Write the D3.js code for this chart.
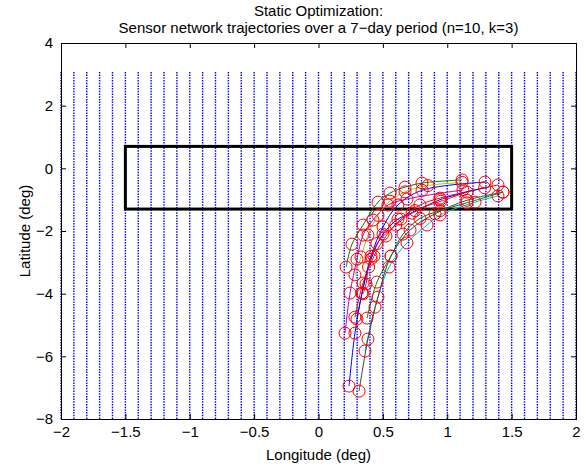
<!DOCTYPE html>
<html>
<head>
<meta charset="utf-8">
<script src="https://cdn.jsdelivr.net/npm/d3@7"></script>
<style>
  html, body { margin: 0; padding: 0; background: #fff; }
  text { font-family: "Liberation Sans", Arial, sans-serif; }
</style>
</head>
<body>
<div id="chart"></div>
<script>
// axis ticks
const lonTicks = [-2, -1.5, -1, -0.5, 0, 0.5, 1, 1.5, 2];
const latTicks = [-8, -6, -4, -2, 0, 2, 4];

// current field columns (quiver grid)
const fieldLon = [-2, -1.9, -1.8, -1.7, -1.6, -1.5, -1.4, -1.3, -1.2, -1.1, -1, -0.9, -0.8, -0.7, -0.6,
  -0.5, -0.4, -0.3, -0.2, -0.1, 0, 0.1, 0.2, 0.3, 0.4, 0.5, 0.6, 0.7, 0.8, 0.9, 1, 1.1, 1.2, 1.3,
  1.4, 1.5, 1.6, 1.7, 1.8, 1.9, 2];
const fieldLatRange = [-8, 3.1];

// target region box
const boxLon = [-1.5, 1.5];
const boxLat = [-1.3, 0.7];

// sensor trajectories, one point per day (lon, lat)
const sensors = [
  [[0.237, -6.95], [0.283, -5.26], [0.338, -3.98], [0.408, -2.80], [0.501, -1.87], [0.617, -1.17], [0.804, -0.70], [1.293, -0.44]],
  [[0.214, -3.15], [0.260, -2.42], [0.346, -1.81], [0.462, -1.08], [0.555, -0.79], [0.672, -0.60], [0.804, -0.47], [1.115, -0.37]],
  [[0.283, -4.75], [0.346, -3.66], [0.431, -2.80], [0.524, -2.16], [0.641, -1.62], [0.788, -1.17], [0.944, -0.95], [1.394, -0.53]],
  [[0.361, -5.83], [0.439, -4.43], [0.548, -3.15], [0.687, -2.38], [0.843, -1.81], [0.944, -1.49], [1.216, -1.08], [1.394, -0.88]],
  [[0.206, -5.26], [0.245, -3.98], [0.299, -2.90], [0.346, -2.13], [0.423, -1.65], [0.540, -1.17], [0.687, -0.98], [1.122, -0.69]],
  [[0.283, -3.40], [0.330, -2.83], [0.384, -2.13], [0.462, -1.50], [0.555, -1.05], [0.672, -0.75], [0.850, -0.55], [1.115, -0.45]],
  [[0.315, -7.11], [0.384, -5.45], [0.462, -4.11], [0.563, -2.80], [0.711, -1.97], [0.905, -1.45], [1.153, -1.02], [1.433, -0.76]],
  [[0.299, -4.81], [0.338, -3.98], [0.408, -2.90], [0.501, -2.10], [0.617, -1.62], [0.726, -1.43], [0.944, -1.00], [1.290, -0.62]],
  [[0.377, -4.78], [0.454, -3.63], [0.563, -2.80], [0.656, -2.10], [0.788, -1.60], [0.944, -1.35], [1.153, -1.10], [1.433, -0.76]],
  [[0.346, -4.00], [0.369, -3.69], [0.389, -3.15], [0.454, -2.40], [0.600, -1.81], [0.750, -1.35], [0.950, -1.05], [1.153, -0.76]]
];

// old MATLAB line colour order
const lineColors = ['#0000ff', '#008000', '#ff0000', '#00bfbf', '#bf00bf', '#bfbf00', '#404040'];

const W = 587, H = 466;
const margin = { top: 43, right: 11, bottom: 47, left: 61 };
const width = W - margin.left - margin.right;
const height = H - margin.top - margin.bottom;

const svg = d3.select('#chart').append('svg')
  .attr('width', W)
  .attr('height', H);

const g = svg.append('g')
  .attr('transform', `translate(${margin.left},${margin.top})`);

const x = d3.scaleLinear().domain([-2, 2]).range([0, width]);
const y = d3.scaleLinear().domain([-8, 4]).range([height, 0]);

const plot = g.append('g');

// quiver field, drawn as dotted columns
plot.selectAll('line.field')
  .data(fieldLon)
  .enter()
  .append('line')
  .attr('class', 'field')
  .attr('x1', (d) => x(d))
  .attr('x2', (d) => x(d))
  .attr('y1', y(fieldLatRange[0]))
  .attr('y2', y(fieldLatRange[1]))
  .attr('stroke', '#0000ff')
  .attr('stroke-width', 1.4)
  .attr('stroke-dasharray', '1.5,1.2');

// box
plot.append('rect')
  .attr('x', x(boxLon[0]))
  .attr('y', y(boxLat[1]))
  .attr('width', x(boxLon[1]) - x(boxLon[0]))
  .attr('height', y(boxLat[0]) - y(boxLat[1]))
  .attr('fill', 'none')
  .attr('stroke', '#000')
  .attr('stroke-width', 3);

// trajectories
const line = d3.line()
  .x((d) => x(d[0]))
  .y((d) => y(d[1]))
  .curve(d3.curveCatmullRom);

sensors.forEach((pts, i) => {
  plot.append('path')
    .datum(pts)
    .attr('fill', 'none')
    .attr('stroke', lineColors[i % lineColors.length])
    .attr('stroke-width', 1)
    .attr('d', line);
});

sensors.forEach((pts) => {
  plot.selectAll(null)
    .data(pts)
    .enter()
    .append('circle')
    .attr('cx', (d) => x(d[0]))
    .attr('cy', (d) => y(d[1]))
    .attr('r', 6)
    .attr('fill', 'none')
    .attr('stroke', '#ff0000')
    .attr('stroke-width', 1);
});

// axes with inward ticks on all sides
const fmt = d3.format('');
g.append('g')
  .attr('transform', `translate(0,${height})`)
  .call(d3.axisBottom(x).tickValues(lonTicks).tickSize(-5).tickPadding(7).tickFormat(fmt));
g.append('g')
  .call(d3.axisTop(x).tickValues(lonTicks).tickSize(-5).tickFormat(''));
g.append('g')
  .call(d3.axisLeft(y).tickValues(latTicks).tickSize(-5).tickPadding(8).tickFormat(fmt));
g.append('g')
  .attr('transform', `translate(${width},0)`)
  .call(d3.axisRight(y).tickValues(latTicks).tickSize(-5).tickFormat(''));

g.selectAll('.domain').attr('stroke', '#000').attr('stroke-width', 1);
g.selectAll('.tick line').attr('stroke', '#000');
g.selectAll('.tick text')
  .attr('font-size', 15)
  .attr('fill', '#000')
  .attr('font-family', '"Liberation Sans", Arial, sans-serif');

// labels
svg.append('text')
  .attr('x', margin.left + width / 2)
  .attr('y', 460)
  .attr('text-anchor', 'middle')
  .attr('font-size', 15)
  .text('Longitude (deg)');

svg.append('text')
  .attr('transform', `translate(30,${margin.top + height / 2}) rotate(-90)`)
  .attr('text-anchor', 'middle')
  .attr('font-size', 15)
  .text('Latitude (deg)');

svg.append('text')
  .attr('x', margin.left + width / 2)
  .attr('y', 16)
  .attr('text-anchor', 'middle')
  .attr('font-size', 15)
  .text('Static Optimization:');

svg.append('text')
  .attr('x', margin.left + width / 2)
  .attr('y', 33)
  .attr('text-anchor', 'middle')
  .attr('font-size', 15)
  .text('Sensor network trajectories over a 7\u2212day period (n=10, k=3)');
</script>
</body>
</html>
